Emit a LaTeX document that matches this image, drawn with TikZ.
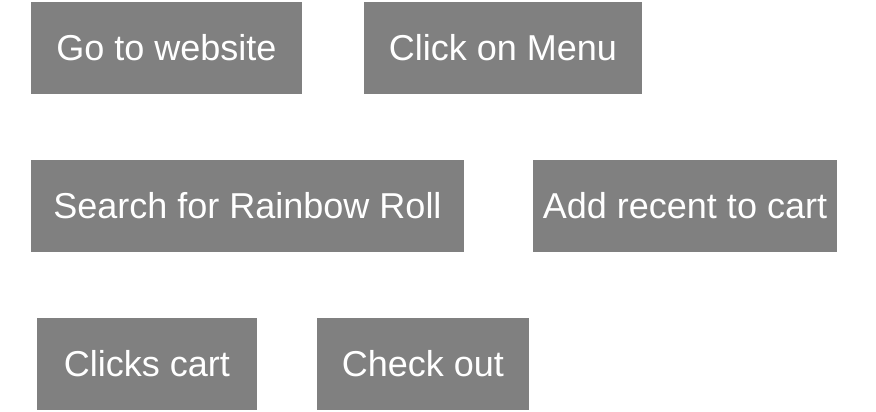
\documentclass[tikz,border=0pt]{standalone}
\usepackage{fontspec}
\setmainfont{Liberation Sans}

\tikzset{
  stepbox/.style={fill={rgb,255:red,128;green,128;blue,128}, text=white,
    minimum height=92pt, inner sep=0pt,
    font=\fontsize{36}{43}\selectfont}
}

\begin{document}
\begin{tikzpicture}[x=1pt,y=-1pt]
\useasboundingbox (0,0) rectangle (876,412);

\node [stepbox, minimum width=271pt] (website) at (166.5,48) {Go to website};
\node [stepbox, minimum width=278pt] (menu) at (503,48) {Click on Menu};

\node [stepbox, minimum width=433pt] (search) at (247.5,206) {Search for Rainbow Roll};
\node [stepbox, minimum width=304pt] (addcart) at (685,206) {Add recent to cart};

\node [stepbox, minimum width=220pt] (cart) at (147,364) {Clicks cart};
\node [stepbox, minimum width=212pt] (checkout) at (423,364) {Check out};

\end{tikzpicture}
\end{document}
